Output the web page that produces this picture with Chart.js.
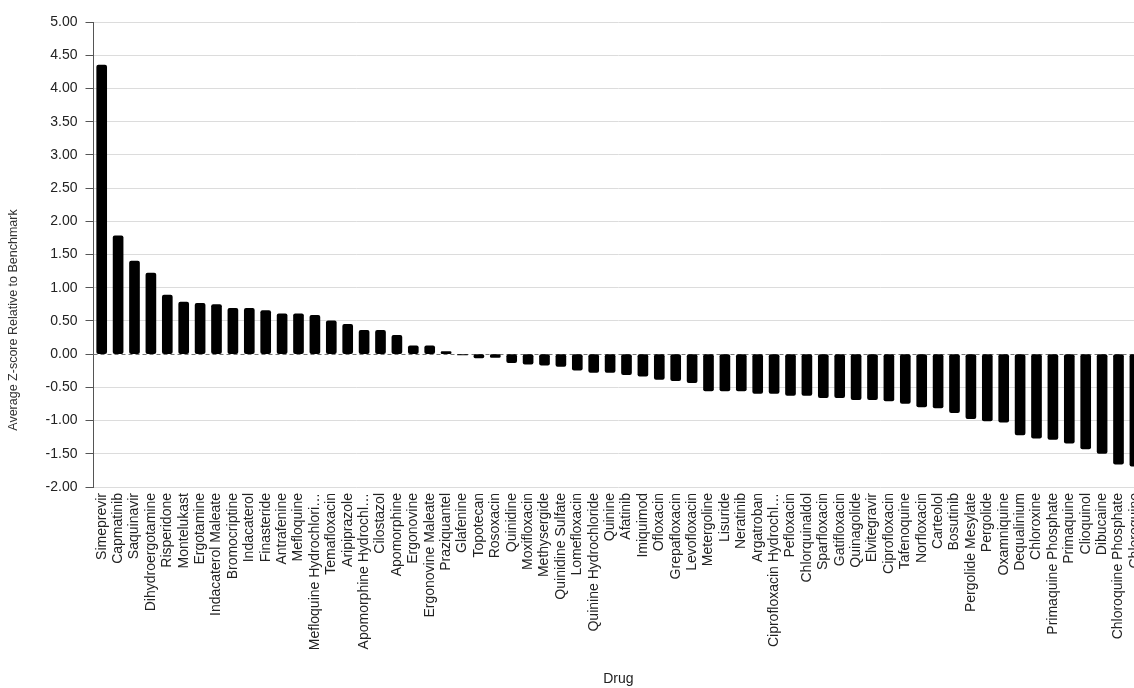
<!DOCTYPE html>
<html>
<head>
<meta charset="utf-8">
<script src="https://cdn.jsdelivr.net/npm/chart.js@4.4.0/dist/chart.umd.min.js"></script>
<style>
  html, body { margin: 0; padding: 0; background: #fff; overflow: hidden; }
  #wrap { width: 1134px; height: 688px; overflow: hidden; position: relative; }
  #c { display: block; }
</style>
</head>
<body>
<div id="wrap"><canvas id="c" width="1160" height="688" style="width:1160px;height:688px"></canvas></div>
<script>
const drugs = [
  "Simeprevir", "Capmatinib", "Saquinavir", "Dihydroergotamine", "Risperidone",
  "Montelukast", "Ergotamine", "Indacaterol Maleate", "Bromocriptine", "Indacaterol",
  "Finasteride", "Antrafenine", "Mefloquine", "Mefloquine Hydrochloride", "Temafloxacin",
  "Aripiprazole", "Apomorphine Hydrochloride", "Cilostazol", "Apomorphine", "Ergonovine",
  "Ergonovine Maleate", "Praziquantel", "Glafenine", "Topotecan", "Rosoxacin",
  "Quinidine", "Moxifloxacin", "Methysergide", "Quinidine Sulfate", "Lomefloxacin",
  "Quinine Hydrochloride", "Quinine", "Afatinib", "Imiquimod", "Ofloxacin",
  "Grepafloxacin", "Levofloxacin", "Metergoline", "Lisuride", "Neratinib",
  "Argatroban", "Ciprofloxacin Hydrochloride", "Pefloxacin", "Chlorquinaldol", "Sparfloxacin",
  "Gatifloxacin", "Quinagolide", "Elvitegravir", "Ciprofloxacin", "Tafenoquine",
  "Norfloxacin", "Carteolol", "Bosutinib", "Pergolide Mesylate", "Pergolide",
  "Oxamniquine", "Dequalinium", "Chloroxine", "Primaquine Phosphate", "Primaquine",
  "Clioquinol", "Dibucaine", "Chloroquine Phosphate", "Chloroquine"
];
const zScores = [
  4.35, 1.78, 1.40, 1.22, 0.89,
  0.785, 0.765, 0.745, 0.69, 0.69,
  0.655, 0.605, 0.605, 0.585, 0.50,
  0.45, 0.36, 0.36, 0.285, 0.125,
  0.125, 0.04, -0.01, -0.055, -0.05,
  -0.13, -0.15, -0.165, -0.185, -0.24,
  -0.275, -0.275, -0.31, -0.33, -0.38,
  -0.40, -0.43, -0.555, -0.555, -0.555,
  -0.59, -0.59, -0.62, -0.62, -0.655,
  -0.655, -0.685, -0.685, -0.705, -0.74,
  -0.795, -0.81, -0.88, -0.97, -1.005,
  -1.025, -1.215, -1.265, -1.285, -1.34,
  -1.425, -1.495, -1.655, -1.685
];
const yTickValues = [5, 4.5, 4, 3.5, 3, 2.5, 2, 1.5, 1, 0.5, 0, -0.5, -1, -1.5, -2];
const xTitle = "Drug";
const yTitle = "Average Z-score Relative to Benchmark";

const FONT = "'Liberation Sans', Arial, Helvetica, sans-serif";
const measureCtx = document.createElement('canvas').getContext('2d');
measureCtx.font = "14px " + FONT;
function truncateLabel(s, maxW) {
  if (measureCtx.measureText(s).width <= maxW) return s;
  let t = s;
  while (t.length > 1 && measureCtx.measureText(t + "\u2026").width > maxW) t = t.slice(0, -1);
  return t + "\u2026";
}

const zeroLine = {
  id: 'zeroLine',
  beforeDatasetsDraw(chart) {
    const {ctx, chartArea, scales} = chart;
    const y = Math.round(scales.y.getPixelForValue(0)) + 0.5;
    ctx.save();
    ctx.strokeStyle = '#777';
    ctx.lineWidth = 1;
    ctx.setLineDash([4, 3]);
    ctx.beginPath();
    ctx.moveTo(chartArea.left, y);
    ctx.lineTo(chartArea.right, y);
    ctx.stroke();
    ctx.restore();
  }
};
const yTitlePlugin = {
  id: 'yTitlePlugin',
  afterDraw(chart) {
    const ctx = chart.ctx;
    ctx.save();
    ctx.translate(14, 320);
    ctx.rotate(-Math.PI / 2);
    ctx.font = "12.5px " + FONT;
    ctx.fillStyle = '#333';
    ctx.textAlign = 'center';
    ctx.textBaseline = 'middle';
    ctx.fillText(yTitle, 0, 0);
    ctx.restore();
  }
};

new Chart(document.getElementById('c'), {
  type: 'bar',
  data: {
    labels: drugs,
    datasets: [{
      label: 'Average Z-score',
      data: zScores,
      backgroundColor: '#000',
      borderWidth: 0,
      borderRadius: 2,
      borderSkipped: false,
      barThickness: 10
    }]
  },
  options: {
    responsive: false,
    animation: false,
    devicePixelRatio: 1,
    layout: { padding: { top: 22, right: 16.9, bottom: 0, left: 0 } },
    plugins: { legend: { display: false }, tooltip: { enabled: false } },
    scales: {
      x: {
        type: 'category',
        offset: true,
        grid: { display: false, drawTicks: false },
        border: { display: false },
        ticks: {
          autoSkip: false,
          minRotation: 90,
          maxRotation: 90,
          padding: 6,
          color: '#222',
          font: { family: FONT, size: 14 },
          callback: function(v, i) { return truncateLabel(drugs[i], 157.9); }
        },
        title: {
          display: true,
          text: xTitle,
          color: '#222',
          font: { family: FONT, size: 14 },
          padding: 0
        },
        afterFit(scale) { scale.height = 201; }
      },
      y: {
        min: -2,
        max: 5,
        afterBuildTicks(scale) { scale.ticks = yTickValues.map(v => ({ value: v })); },
        grid: {
          color: (c) => (c.tick && c.tick.value === 0) ? 'rgba(0,0,0,0)' : '#dcdcdc',
          tickColor: '#555',
          tickLength: 8,
          lineWidth: 1
        },
        border: { display: true, color: '#555', width: 1 },
        ticks: {
          padding: 8,
          color: '#222',
          font: { family: FONT, size: 14 },
          callback: (v) => Number(v).toFixed(2)
        },
        afterFit(scale) { scale.width = 93.5; }
      }
    }
  },
  plugins: [zeroLine, yTitlePlugin]
});
</script>
</body>
</html>
